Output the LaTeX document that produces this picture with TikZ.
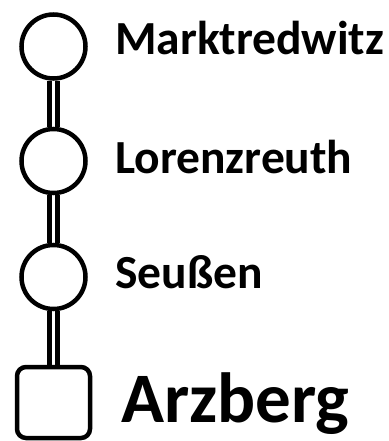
\documentclass[tikz,border=0pt]{standalone}
\usepackage{fontspec}
\setmainfont{Carlito}
\usepackage{tikz}
\usetikzlibrary{positioning, backgrounds}
\tikzset{
  % round stop
  stop/.style={circle, draw=black, fill=white, line width=4.5pt,
               inner sep=0pt, minimum size=64pt},
  % terminus = rounded square
  terminus/.style={rectangle, rounded corners=9pt, draw=black, fill=white,
                   line width=4.5pt, inner sep=0pt,
                   minimum width=73pt, minimum height=71pt},
  % double track between stops
  track/.style={draw=black, line width=4.5pt, double=white,
                double distance=3.5pt},
  stopname/.style={anchor=base west, inner sep=0pt,
                   font=\bfseries\fontsize{47.5}{50}\selectfont},
}

\begin{document}
\begin{tikzpicture}[x=1pt,y=-1pt]
  \useasboundingbox (0,0) rectangle (388,441);
  \node[stop] (marktredwitz) at (53.5,46.5) {};
  \node[stop] (lorenzreuth) at (53.5,161) {};
  \node[stop] (seussen) at (53.5,277) {};
  \node[terminus] (arzberg) at (53.5,402.5) {};
  \begin{scope}[on background layer]
    \draw[track] (marktredwitz) -- (lorenzreuth);
    \draw[track] (lorenzreuth) -- (seussen);
    \draw[track] (seussen) -- (arzberg);
  \end{scope}
  \node[stopname] (lblmarktredwitz) at (115,55) {Marktredwitz};
  \node[stopname] (lbllorenzreuth) at (115,173) {Lorenzreuth};
  \node[stopname] (lblseussen) at (115,288) {Seußen};
  \node[stopname, font=\bfseries\fontsize{71}{75}\selectfont]
    (lblarzberg) at (121,422) {Arzberg};
\end{tikzpicture}
\end{document}
